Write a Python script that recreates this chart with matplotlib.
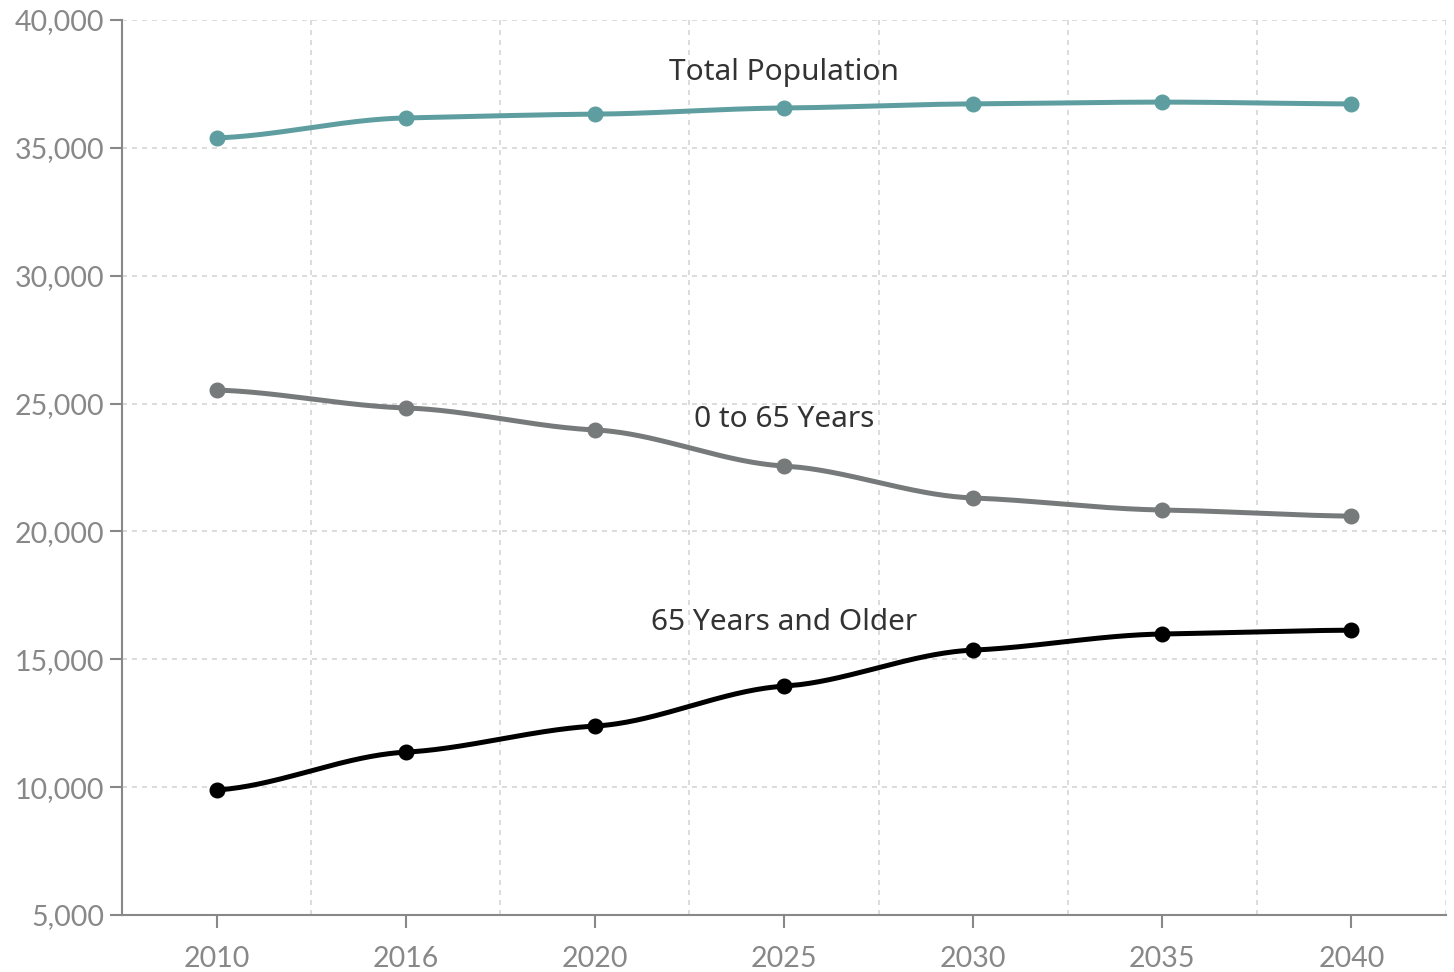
import numpy as np
import matplotlib.pyplot as plt

years = ["2010", "2016", "2020", "2025", "2030", "2035", "2040"]
total_pop = [35390, 36170, 36320, 36560, 36720, 36790, 36720]
under_65 = [25530, 24830, 23970, 22560, 21310, 20840, 20600]
over_65 = [9890, 11370, 12390, 13950, 15360, 15990, 16140]


def smooth(y, k=0.32, n=60):
    # hermite spline with damped tangents
    y = np.asarray(y, dtype=float)
    x = np.arange(len(y))
    m = np.zeros_like(y)
    m[1:-1] = (y[2:] - y[:-2]) / 2
    m[0] = y[1] - y[0]
    m[-1] = y[-1] - y[-2]
    m = m * k
    xs, ys = [], []
    for i in range(len(y) - 1):
        t = np.linspace(0, 1, n)
        h00 = 2 * t**3 - 3 * t**2 + 1
        h10 = t**3 - 2 * t**2 + t
        h01 = -2 * t**3 + 3 * t**2
        h11 = t**3 - t**2
        xs.append(x[i] + t)
        ys.append(h00 * y[i] + h10 * m[i] + h01 * y[i + 1] + h11 * m[i + 1])
    return np.concatenate(xs), np.concatenate(ys)


fig = plt.figure(figsize=(14.54, 9.72), dpi=100)
ax = fig.add_axes([0.0839, 0.0586, 0.9106, 0.9208])

series = [
    (total_pop, "#5f9ea0", "Total Population", 37960),
    (under_65, "#777a7a", "0 to 65 Years", 24360),
    (over_65, "#000000", "65 Years and Older", 16450),
]
x = np.arange(len(years))
for vals, col, name, ly in series:
    sx, sy = smooth(vals)
    ax.plot(sx, sy, color=col, lw=3.6, solid_capstyle="round", zorder=3)
    ax.plot(x, vals, "o", color=col, ms=10.5, zorder=4)
    ax.text(3, ly, name, ha="center", va="center", fontsize=21.5,
            family="Noto Sans", color="#333333")

ax.set_xlim(-0.5, 6.5)
ax.set_ylim(5000, 40000)
ax.set_xticks(x)
ax.set_xticklabels(years)
ax.set_yticks(np.arange(5000, 40001, 5000))
ax.set_yticklabels([f"{v:,}" for v in range(5000, 40001, 5000)])

for yv in range(10000, 40001, 5000):
    ax.axhline(yv, color="#d5d5d5", lw=1.2, ls=(0, (3, 3)), zorder=1)
for xv in np.arange(0.5, 6.6, 1):
    ax.axvline(xv, color="#d5d5d5", lw=1.2, ls=(0, (3, 3)), zorder=1)

for s in ["top", "right"]:
    ax.spines[s].set_visible(False)
for s in ["left", "bottom"]:
    ax.spines[s].set_color("#888888")
    ax.spines[s].set_linewidth(1.5)
ax.tick_params(axis="both", colors="#888888", labelcolor="#888888",
               labelsize=20.5, length=9, width=1.5)
ax.tick_params(axis="x", pad=13)
ax.tick_params(axis="y", pad=4)
for lab in ax.get_xticklabels() + ax.get_yticklabels():
    lab.set_family("Lato")

fig.savefig("out.png", dpi=100)
